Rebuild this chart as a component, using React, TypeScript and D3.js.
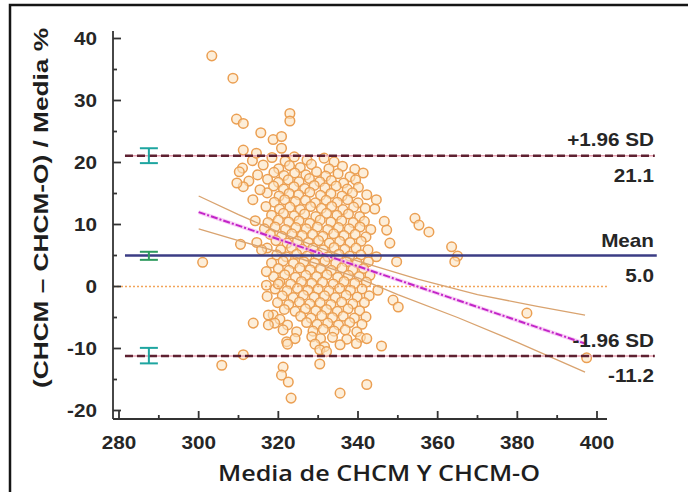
import React from 'react';
import * as d3 from 'd3';

const xTicks = [280, 300, 320, 340, 360, 380, 400];
const xMinorTicks = [290, 310, 330, 350, 370, 390];
const yTicks = [-20, -10, 0, 10, 20, 30, 40];
const yMinorTicks = [-15, -5, 5, 15, 25, 35];

const meanDiff = 5.0;
const upperLoA = 21.1;
const lowerLoA = -11.2;

// confidence intervals of the limits / mean (low, high)
const ciX = 287.5;
const ciUpper = [19.9, 22.3];
const ciMean = [4.3, 5.6];
const ciLower = [-12.4, -9.9];

// regression line of differences and its confidence band
const regLine: [number, number][] = [[300, 12.0], [397, -9.2]];
const regUpper: [number, number][] = [[300, 14.6], [310, 11.6], [320, 8.8], [330, 6.3], [340, 4.1], [355, 1.2], [370, -1.3], [385, -3.2], [397, -4.6]];
const regLower: [number, number][] = [[300, 9.3], [310, 7.4], [320, 5.6], [330, 3.6], [340, 1.4], [350, -1.3], [365, -5.0], [380, -9.0], [397, -13.8]];

const outlierPoints: [number, number][] = [
  [303.3, 37.2], [308.6, 33.6], [309.5, 27.0], [311.2, 26.3], [315.6, 24.8], [318.7, 23.7], [320.8, 24.2],
  [322.9, 27.9], [322.9, 26.7], [320.8, 22.3], [311.2, 22.0], [314.5, 21.5], [309.6, 16.7], [315.4, 15.6],
  [313.6, 14.0], [354.3, 11.0], [355.3, 9.9], [357.8, 8.8], [363.5, 6.4], [365.0, 4.9], [364.3, 4.0],
  [382.4, -4.3], [397.4, -11.5], [301.0, 3.9], [310.5, 6.8], [315.8, 5.9], [317.0, 2.4], [317.0, 0.2],
  [317.2, -1.6], [320.0, 0.4], [313.7, -5.9], [317.5, -4.6], [317.5, -6.2], [311.2, -11.0], [305.8, -12.7],
  [321.2, -13.0], [320.8, -14.3], [322.5, -15.4], [323.2, -18.0], [335.5, -17.2], [342.2, -15.8], [330.4, -12.5],
  [350.1, -3.3], [344.6, 14.0], [347.2, 9.1], [349.7, 4.0],
];

const clusterPoints: [number, number][] = [
  [313.5, 20.3], [318.4, 20.8], [321.7, 20.2], [324.0, 20.9], [327.2, 20.4], [331.5, 20.7], [334.0, 20.1],
  [311.0, 19.1], [316.2, 19.6], [320.1, 19.0], [322.8, 19.5], [325.5, 19.2], [328.3, 19.7], [332.7, 19.0], [336.1, 19.4], [339.2, 18.9],
  [310.2, 18.5], [314.8, 18.0], [318.9, 18.4], [321.4, 17.9], [324.1, 18.3], [326.9, 18.0], [329.6, 18.5], [331.9, 17.8], [335.0, 18.2], [338.0, 17.7], [341.3, 18.3],
  [312.6, 17.0], [317.3, 17.3], [320.0, 16.8], [322.5, 17.2], [325.2, 16.9], [327.8, 17.4], [330.4, 16.9], [333.3, 17.1], [336.4, 16.7], [339.4, 17.2],
  [311.2, 16.1], [318.8, 16.2], [321.3, 15.7], [323.9, 16.1], [326.6, 15.8], [329.0, 16.3], [331.7, 15.9], [334.5, 16.2], [337.3, 15.7], [340.1, 16.0],
  [317.2, 15.1], [320.2, 14.6], [322.7, 15.0], [325.1, 14.8], [327.9, 15.2], [330.6, 14.7], [333.2, 15.0], [336.0, 14.6], [338.6, 15.1], [342.2, 14.8],
  [319.0, 13.6], [321.6, 14.0], [324.3, 13.7], [326.8, 13.9], [329.3, 13.5], [332.0, 13.9], [334.8, 13.6], [337.4, 14.0], [340.0, 13.5], [344.2, 12.5],
  [316.9, 12.9], [320.3, 12.5], [322.9, 12.8], [325.5, 12.4], [328.1, 12.9], [330.8, 12.6], [333.4, 12.9], [336.2, 12.4], [338.9, 12.8], [341.8, 12.6],
  [318.3, 11.5], [321.3, 11.8], [324.0, 11.4], [326.6, 11.7], [329.4, 11.3], [332.1, 11.8], [334.7, 11.5], [337.6, 11.7], [340.4, 11.3], [346.6, 10.5],
  [314.2, 10.6], [317.4, 10.3], [320.0, 10.7], [322.6, 10.4], [325.2, 10.6], [327.9, 10.2], [330.5, 10.7], [333.2, 10.4], [335.9, 10.6], [338.8, 10.3], [341.6, 10.5],
  [316.5, 9.3], [319.2, 9.6], [321.8, 9.2], [324.4, 9.5], [327.0, 9.3], [329.8, 9.6], [332.4, 9.2], [335.1, 9.5], [337.8, 9.3], [340.5, 9.6], [343.2, 9.2],
  [318.0, 8.4], [320.8, 8.1], [323.4, 8.5], [326.0, 8.2], [328.6, 8.4], [331.2, 8.1], [333.9, 8.5], [336.5, 8.2], [339.3, 8.4], [342.0, 8.0],
  [314.6, 7.1], [319.4, 7.4], [322.2, 7.0], [324.8, 7.3], [327.5, 7.1], [330.1, 7.4], [332.8, 7.0], [335.4, 7.3], [338.0, 7.1], [340.8, 7.3], [348.0, 7.0],
  [317.2, 6.2], [320.6, 5.9], [323.3, 6.3], [326.0, 6.0], [328.7, 6.2], [331.3, 5.9], [334.0, 6.3], [336.7, 6.0], [339.5, 6.2], [342.5, 5.9],
  [319.6, 5.1], [322.0, 4.8], [324.6, 5.2], [327.2, 4.9], [329.9, 5.1], [332.5, 4.8], [335.2, 5.2], [337.9, 4.9], [340.7, 5.1], [344.6, 4.8],
  [318.3, 3.8], [321.2, 4.1], [323.8, 3.7], [326.4, 4.0], [329.1, 3.8], [331.7, 4.1], [334.4, 3.7], [337.1, 4.0], [339.8, 3.8], [342.6, 4.0],
  [320.0, 2.9], [322.7, 2.6], [325.4, 3.0], [328.0, 2.7], [330.6, 2.9], [333.3, 2.6], [336.0, 3.0], [338.7, 2.7], [341.4, 2.9],
  [318.8, 1.6], [321.6, 1.9], [324.3, 1.5], [326.9, 1.8], [329.6, 1.6], [332.2, 1.9], [334.9, 1.5], [337.6, 1.8], [340.3, 1.6], [343.0, 1.8],
  [320.4, 0.7], [323.1, 0.4], [325.8, 0.8], [328.4, 0.5], [331.1, 0.7], [333.8, 0.4], [336.5, 0.8], [339.2, 0.5], [342.1, 0.7],
  [319.2, -0.4], [322.2, -0.7], [324.8, -0.3], [327.4, -0.6], [330.0, -0.4], [332.7, -0.7], [335.4, -0.3], [338.1, -0.6], [341.0, -0.4], [345.0, -0.6],
  [321.0, -1.5], [323.7, -1.8], [326.3, -1.4], [329.0, -1.7], [331.6, -1.5], [334.3, -1.8], [337.0, -1.4], [339.8, -1.7], [342.8, -1.5],
  [319.8, -2.6], [322.6, -2.9], [325.3, -2.5], [327.9, -2.8], [330.5, -2.6], [333.2, -2.9], [335.9, -2.5], [338.7, -2.8], [341.6, -2.6], [348.8, -2.2],
  [321.5, -3.7], [324.2, -4.0], [326.8, -3.6], [329.4, -3.9], [332.1, -3.7], [334.8, -4.0], [337.5, -3.6], [340.4, -3.9],
  [318.7, -4.6], [320.4, -5.3], [325.6, -4.8], [328.2, -5.1], [330.9, -4.7], [333.6, -5.0], [336.3, -4.8], [339.1, -5.1], [342.0, -4.9],
  [319.1, -5.9], [322.3, -6.2], [327.1, -5.8], [329.7, -6.1], [332.4, -5.9], [335.1, -6.2], [337.9, -5.8], [341.0, -6.1],
  [321.2, -7.0], [324.6, -7.3], [328.7, -7.2], [331.3, -6.9], [334.0, -7.2], [336.8, -7.0], [339.7, -7.3],
  [322.1, -8.9], [324.2, -8.4], [328.4, -8.1], [330.6, -8.4], [333.6, -8.2], [337.2, -8.5], [340.6, -8.2], [342.2, -8.4],
  [322.3, -9.3], [329.2, -9.3], [331.6, -9.7], [335.5, -9.4], [339.6, -9.2], [345.9, -9.6],
  [330.4, -10.2], [332.1, -10.5],
];

const W = 688;
const H = 492;

const x = d3.scaleLinear().domain([280, 400]).range([119, 597]);
const y = d3.scaleLinear().domain([-20, 40]).range([410.5, 38.5]);

const AX_X = 113;
const AX_Y = 419;
const FONT = "'Liberation Sans', Arial, sans-serif";
const SX = 1.15;

function Label({ px, py, anchor, children, size = 18 }: any) {
  return (
    <text
      transform={`translate(${px},${py}) scale(${SX},1)`}
      textAnchor={anchor}
      fontFamily={FONT}
      fontWeight="bold"
      fontSize={size}
      fill="#262626"
    >
      {children}
    </text>
  );
}

export default function App() {
  const line = d3.line<[number, number]>().x(d => x(d[0])).y(d => y(d[1]));
  const allPoints = [...clusterPoints, ...outlierPoints];
  const lineStart = 281.5;
  const lineEnd = 414.5;
  const labelX = 654;

  const ciBars = [
    { v: ciUpper, color: '#1ea5a0' },
    { v: ciMean, color: '#2e9a5e' },
    { v: ciLower, color: '#1ea5a0' },
  ];

  return (
    <svg width={W} height={H} style={{ position: 'absolute', left: 0, top: 0, background: '#fff' }}>
      <rect x={0} y={0} width={W} height={H} fill="#fff" />
      {/* outer frame */}
      <path d={`M10,${H + 2} L10,5 L${W + 2},5`} fill="none" stroke="#151515" strokeWidth={2.5} />

      {/* points */}
      <g>
        {allPoints.map((p, i) => (
          <circle key={i} cx={x(p[0])} cy={y(p[1])} r={4.8} fill="#fce2bf" fillOpacity={0.6} stroke="#eb9f52" strokeWidth={1.5} />
        ))}
      </g>

      {/* zero line */}
      <line x1={AX_X} x2={x(402.5)} y1={y(0)} y2={y(0)} stroke="#f2a55a" strokeWidth={1.6} strokeDasharray="2,2" />

      {/* regression CI band */}
      <path d={line(regUpper) || ''} fill="none" stroke="#d9a36f" strokeWidth={1.3} />
      <path d={line(regLower) || ''} fill="none" stroke="#d9a36f" strokeWidth={1.3} />
      {/* regression line */}
      <path d={line(regLine) || ''} fill="none" stroke="#f5b0f0" strokeWidth={4} strokeOpacity={0.6} />
      <path d={line(regLine) || ''} fill="none" stroke="#c225c8" strokeWidth={2} strokeDasharray="7,2,2,2" />

      {/* limits of agreement */}
      {[upperLoA, lowerLoA].map((v, i) => (
        <g key={i}>
          <line x1={x(lineStart)} x2={x(lineEnd)} y1={y(v)} y2={y(v)} stroke="#e9a3b3" strokeWidth={1.6} />
          <line x1={x(lineStart)} x2={x(lineEnd)} y1={y(v)} y2={y(v)} stroke="#5e2131" strokeWidth={2.6} strokeDasharray="8,4" />
        </g>
      ))}
      <line x1={x(lineStart)} x2={x(lineEnd) + 2} y1={y(meanDiff)} y2={y(meanDiff)} stroke="#3b3d85" strokeWidth={2.6} />

      {/* CI error bars */}
      {ciBars.map((b, i) => (
        <g key={i} stroke={b.color} strokeWidth={2} fill="none">
          <line x1={x(ciX)} x2={x(ciX)} y1={y(b.v[0])} y2={y(b.v[1])} />
          <line x1={x(ciX) - 9} x2={x(ciX) + 9} y1={y(b.v[0])} y2={y(b.v[0])} />
          <line x1={x(ciX) - 9} x2={x(ciX) + 9} y1={y(b.v[1])} y2={y(b.v[1])} />
        </g>
      ))}

      {/* axes */}
      <g stroke="#333" strokeWidth={1.8}>
        <line x1={AX_X} x2={AX_X} y1={31} y2={AX_Y} />
        <line x1={AX_X} x2={607} y1={AX_Y} y2={AX_Y} />
        {yTicks.map(t => <line key={'y' + t} x1={AX_X} x2={AX_X + 8} y1={y(t)} y2={y(t)} />)}
        {yMinorTicks.map(t => <line key={'ym' + t} x1={AX_X} x2={AX_X + 4} y1={y(t)} y2={y(t)} />)}
        {xTicks.map(t => <line key={'x' + t} x1={x(t)} x2={x(t)} y1={AX_Y} y2={AX_Y - 8} />)}
        {xMinorTicks.map(t => <line key={'xm' + t} x1={x(t)} x2={x(t)} y1={AX_Y} y2={AX_Y - 4} />)}
      </g>

      {yTicks.map(t => (
        <Label key={'yl' + t} px={97} py={y(t) + 6.5} anchor="end">{String(t)}</Label>
      ))}
      {xTicks.map(t => (
        <Label key={'xl' + t} px={x(t)} py={449} anchor="middle">{String(t)}</Label>
      ))}

      {/* line labels */}
      <Label px={labelX} py={146} anchor="end">+1.96 SD</Label>
      <Label px={labelX} py={182} anchor="end">{upperLoA.toFixed(1)}</Label>
      <Label px={labelX} py={247} anchor="end">Mean</Label>
      <Label px={labelX} py={282} anchor="end">{meanDiff.toFixed(1)}</Label>
      <Label px={labelX} py={347} anchor="end">-1.96 SD</Label>
      <Label px={labelX} py={382} anchor="end">{lowerLoA.toFixed(1)}</Label>

      {/* axis titles */}
      <text
        x={379}
        y={481}
        textAnchor="middle"
        fontFamily="'Open Sans', 'Noto Sans', sans-serif"
        fontWeight={600}
        fontSize={21}
        fill="#1e1e1e"
        textLength={322}
        lengthAdjust="spacingAndGlyphs"
      >
        Media de CHCM Y CHCM-O
      </text>
      <text
        transform="translate(48,208) rotate(-90)"
        textAnchor="middle"
        fontFamily={FONT}
        fontWeight="bold"
        fontSize={21}
        fill="#1e1e1e"
        textLength={360}
        lengthAdjust="spacingAndGlyphs"
      >
        (CHCM – CHCM-O) / Media %
      </text>
    </svg>
  );
}
